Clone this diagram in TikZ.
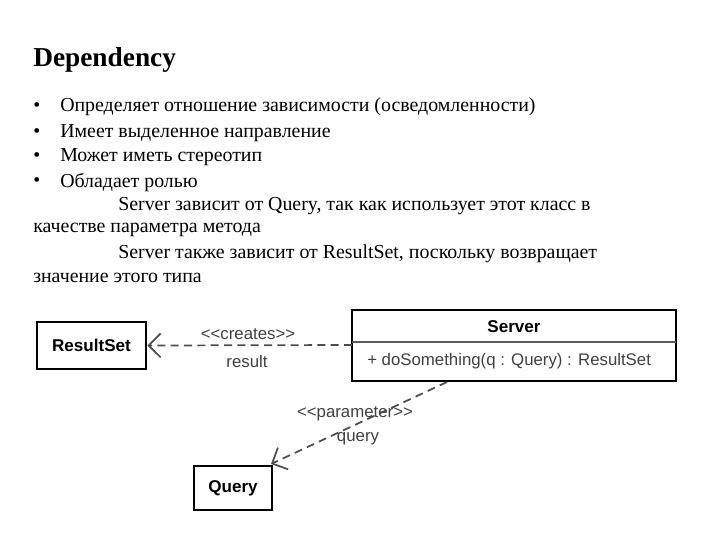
\documentclass[tikz,border=0pt]{standalone}
\usepackage{fontspec}
\setmainfont{Liberation Serif}
\newfontfamily\diag{Liberation Sans}
\usetikzlibrary{arrows.meta}
\begin{document}
\begin{tikzpicture}[x=0.75pt,y=-0.75pt,
  txt/.style={anchor=west,inner sep=0,font=\fontsize{14.9pt}{17pt}\selectfont},
  cls/.style={draw,line width=2.2pt,font=\diag\bfseries\fontsize{12.8pt}{15pt}\selectfont,inner sep=0},
  dep/.style={dashed,dash pattern=on 6pt off 4pt,line width=1.3pt,gray!60!black,-{Straight Barb[length=9pt,width=18pt,line width=1.3pt]}},
  lab/.style={font=\diag\fontsize{12.6pt}{14pt}\selectfont,text=black!75,inner sep=0}]
\useasboundingbox (0,0) rectangle (720,540);
\node[txt,font=\bfseries\fontsize{20.5pt}{24pt}\selectfont] (title) at (33,60) {Dependency};
\foreach \y/\t [count=\i] in {107/Определяет отношение зависимости (осведомленности),133/Имеет выделенное направление,157/Может иметь стереотип,182/Обладает ролью}{
  \node[txt] (b\i) at (33,\y) {•};
  \node[txt] (t\i) at (60,\y) {\t};
}
\node[txt] (l1) at (118,206) {Server зависит от Query, так как использует этот класс в};
\node[txt] (l2) at (33,230) {качестве параметра метода};
\node[txt] (l3) at (118,254) {Server также зависит от ResultSet, поскольку возвращает};
\node[txt] (l4) at (33,278) {значение этого типа};
\node[cls,minimum width=109pt*0.75,minimum height=47pt*0.75] (rs) at (91.5,345.5) {ResultSet};
\node[cls,minimum width=78pt*0.75,minimum height=44pt*0.75] (q) at (233,488) {Query};
\draw[line width=2.2pt] (352,310) rectangle (676,381);
\draw[line width=1.1pt,gray!70!black] (352,342) -- (676,342);
\node[lab,font=\diag\bfseries\fontsize{12.8pt}{15pt}\selectfont,text=black] (sn) at (514,327) {Server};
\node[lab,anchor=west] (op) at (367,361) {+ doSomething(q : Query) : ResultSet};
\coordinate (s1) at (352,345);
\coordinate (s2) at (447,382);
\coordinate (q1) at (271,464);
\draw[dep] (s1) -- (rs.east);
\draw[dep] (s2) -- (q1);
\node[lab] (c1) at (248,334) {<<creates>>};
\node[lab] (c2) at (247,361) {result};
\node[lab] (p1) at (355,414) {<<parameter>>};
\node[lab] (p2) at (358,439) {query};
\end{tikzpicture}
\end{document}
